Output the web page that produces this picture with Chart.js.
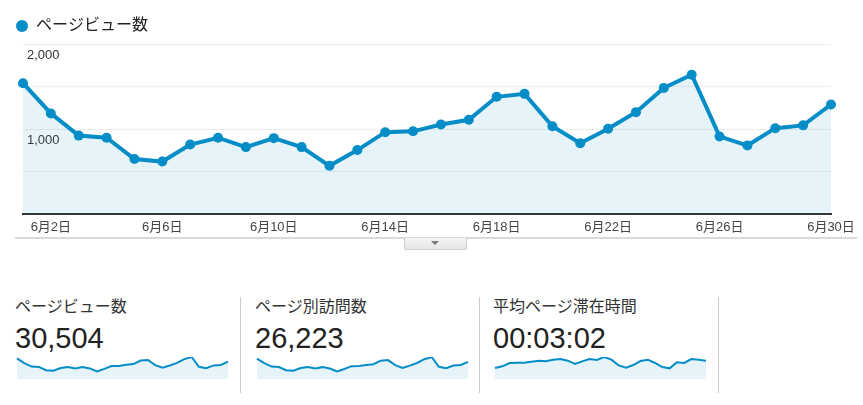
<!DOCTYPE html>
<html>
<head>
<meta charset="utf-8">
<script src="https://cdn.jsdelivr.net/npm/chart.js@4.4.0/dist/chart.umd.min.js"></script>
<style>
  body { margin: 0; background: #fff; font-family: "Liberation Sans", "Noto Sans CJK JP", sans-serif; }
  .box { position: absolute; }
  #mainWrap { left: 0; top: 0; width: 863px; height: 240px; }
  #rule { left: 15px; top: 237px; width: 842px; height: 2px; background: #d9d9d9; }
  #tab { left: 404px; top: 238px; width: 61px; height: 11px; background: linear-gradient(#f4f4f4, #e6e6e6);
         border: 1px solid #cfcfcf; border-top: none; border-radius: 0 0 2px 2px; }
  #tab:after { content: ""; position: absolute; left: 26px; top: 3px; border-left: 4px solid transparent;
               border-right: 4px solid transparent; border-top: 4px solid #777; }
  .sep { position: absolute; top: 297px; width: 1px; height: 96px; background: #cccccc; }
  .name { position: absolute; top: 297px; font-size: 16px; line-height: 20px; color: #333; white-space: nowrap; }
  .num { position: absolute; top: 324px; font-size: 29px; line-height: 29px; color: #222; white-space: nowrap; }
  .spark { position: absolute; top: 355px; width: 215px; height: 26px; }
</style>
</head>
<body>
<div class="box" id="mainWrap"><canvas id="main"></canvas></div>
<div class="box" id="rule"></div>
<div class="box" id="tab"></div>

<div class="name" id="n0" style="left:15px"></div>
<div class="num" id="v0" style="left:15px"></div>
<div class="spark" style="left:15px"><canvas id="s0"></canvas></div>
<div class="sep" style="left:240px"></div>
<div class="name" id="n1" style="left:255px"></div>
<div class="num" id="v1" style="left:255px"></div>
<div class="spark" style="left:255px"><canvas id="s1"></canvas></div>
<div class="sep" style="left:479px"></div>
<div class="name" id="n2" style="left:493px"></div>
<div class="num" id="v2" style="left:493px"></div>
<div class="spark" style="left:493px"><canvas id="s2"></canvas></div>
<div class="sep" style="left:718px"></div>

<script>
var days = ['6月1日', '6月2日', '6月3日', '6月4日', '6月5日', '6月6日', '6月7日', '6月8日', '6月9日', '6月10日',
  '6月11日', '6月12日', '6月13日', '6月14日', '6月15日', '6月16日', '6月17日', '6月18日', '6月19日', '6月20日',
  '6月21日', '6月22日', '6月23日', '6月24日', '6月25日', '6月26日', '6月27日', '6月28日', '6月29日', '6月30日'];

var pageViews = [1540, 1185, 925, 900, 650, 620, 820, 900, 790, 895,
  790, 570, 755, 965, 975, 1055, 1110, 1380, 1415, 1035,
  835, 1005, 1200, 1485, 1640, 915, 808, 1012, 1045, 1290];

var uniqueViews = [1310, 1020, 795, 770, 560, 530, 700, 765, 675, 760,
  670, 490, 645, 825, 835, 900, 950, 1175, 1210, 885,
  715, 860, 1025, 1270, 1410, 785, 690, 865, 895, 1100];

// 平均ページ滞在時間 (秒)
var avgTime = [119, 138, 174, 177, 177, 188, 199, 192, 210, 217,
  199, 163, 192, 217, 206, 239, 210, 148, 123, 152,
  195, 210, 174, 130, 116, 181, 174, 217, 210, 199];

var yTicks = [0, 500, 1000, 1500, 2000];
var seriesName = 'ページビュー数';
var summaryNames = ['ページビュー数', 'ページ別訪問数', '平均ページ滞在時間'];
var summaryValues = ['30,504', '26,223', '00:03:02'];

var blue = '#058dc7';
var fillBlue = 'rgba(5,141,199,0.1)';

Chart.defaults.font.family = '"Liberation Sans", "Noto Sans CJK JP", sans-serif';
Chart.defaults.color = '#333';

new Chart(document.getElementById('main'), {
  type: 'line',
  data: {
    labels: days,
    datasets: [{
      label: seriesName,
      data: pageViews,
      borderColor: blue,
      backgroundColor: fillBlue,
      borderWidth: 4,
      pointRadius: 5,
      pointBackgroundColor: blue,
      pointBorderWidth: 0,
      fill: 'origin',
      tension: 0
    }]
  },
  options: {
    responsive: true,
    maintainAspectRatio: false,
    animation: false,
    layout: { padding: { left: 6, right: 32, top: 8, bottom: 0 } },
    plugins: {
      tooltip: { enabled: false },
      legend: {
        align: 'start',
        labels: {
          usePointStyle: true,
          pointStyle: 'circle',
          boxWidth: 12,
          boxHeight: 8.5,
          padding: 10,
          color: '#222',
          font: { size: 16 }
        }
      }
    },
    scales: {
      x: {
        grid: { display: false, drawTicks: false },
        border: { display: true, color: '#333', width: 2 },
        ticks: {
          autoSkip: false,
          maxRotation: 0,
          padding: 5,
          color: '#444',
          font: { size: 13 },
          callback: function (v, i) { return (i - 1) % 4 === 0 ? days[i] : ''; }
        }
      },
      y: {
        min: 0,
        max: 2000,
        afterFit: function (s) { s.width = 17; },
        afterBuildTicks: function (s) { s.ticks = yTicks.map(function (v) { return { value: v }; }); },
        grid: { color: 'rgba(0,0,0,0.07)', drawTicks: false },
        border: { display: false },
        ticks: {
          mirror: true,
          padding: 4,
          labelOffset: 11,
          color: '#333',
          font: { size: 13 },
          callback: function (v) { return v > 0 && v % 1000 === 0 ? v.toLocaleString('en-US') : ''; }
        }
      }
    }
  }
});

function spark(id, values) {
  new Chart(document.getElementById(id), {
    type: 'line',
    data: {
      labels: days,
      datasets: [{
        data: values,
        borderColor: blue,
        backgroundColor: fillBlue,
        borderWidth: 2,
        pointRadius: 0,
        fill: 'origin',
        tension: 0
      }]
    },
    options: {
      responsive: true,
      maintainAspectRatio: false,
      animation: false,
      layout: { padding: 2 },
      plugins: { legend: { display: false }, tooltip: { enabled: false } },
      scales: {
        x: { display: false },
        y: { display: false, min: 0, max: Math.max.apply(null, values) }
      }
    }
  });
}

spark('s0', pageViews);
spark('s1', uniqueViews);
spark('s2', avgTime);

for (var i = 0; i < 3; i++) {
  document.getElementById('n' + i).textContent = summaryNames[i];
  document.getElementById('v' + i).textContent = summaryValues[i];
}
</script>
</body>
</html>
